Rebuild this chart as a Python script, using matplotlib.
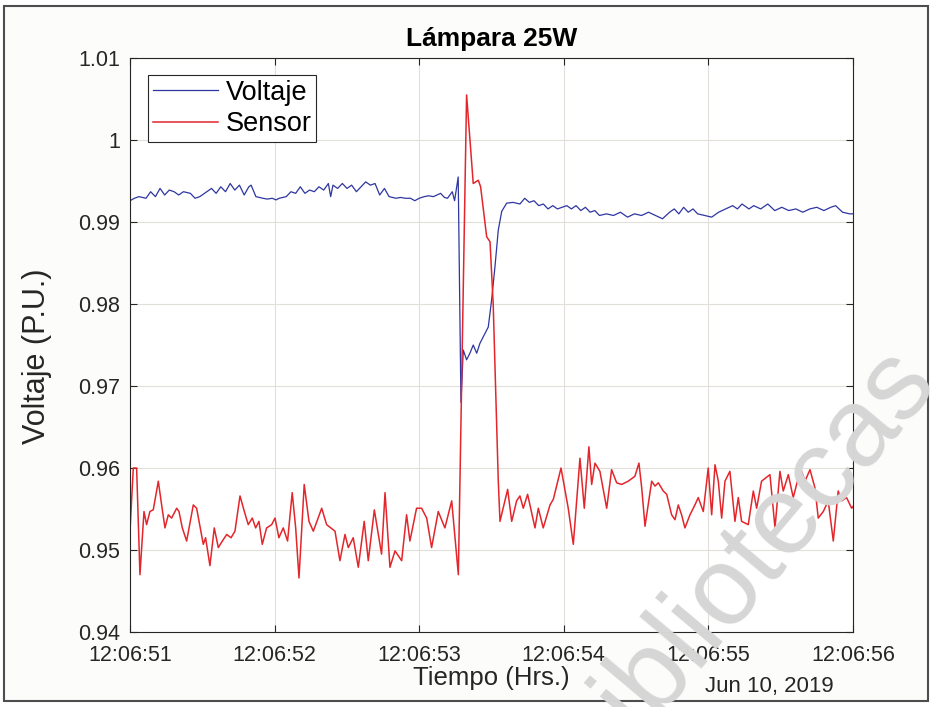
import numpy as np
import matplotlib
matplotlib.use('Agg')
import matplotlib.pyplot as plt
import matplotlib.dates as mdates
from matplotlib.patches import Rectangle

plt.rcParams['font.family'] = ['Liberation Sans', 'DejaVu Sans']

# datos (segundos desde 12:06:51, valor en p.u.)
inicio = np.datetime64('2019-06-10T12:06:51.000')

volt_t = [0.000, 0.031, 0.062, 0.111, 0.143, 0.176, 0.208, 0.240, 0.272, 0.305,
          0.337, 0.370, 0.418, 0.450, 0.483, 0.531, 0.564, 0.596, 0.628, 0.661,
          0.693, 0.725, 0.757, 0.790, 0.822, 0.838, 0.871, 0.895, 0.919, 0.950,
          0.984, 1.010, 1.032, 1.081, 1.113, 1.146, 1.178, 1.210, 1.242, 1.275,
          1.307, 1.340, 1.372, 1.388, 1.404, 1.436, 1.469, 1.501, 1.533, 1.566,
          1.598, 1.630, 1.663, 1.695, 1.727, 1.760, 1.792, 1.815, 1.840, 1.870,
          1.905, 1.940, 1.970, 2.000, 2.035, 2.065, 2.099, 2.148, 2.175, 2.196,
          2.229, 2.245, 2.270, 2.289, 2.305, 2.328, 2.351, 2.374, 2.398, 2.420,
          2.443, 2.478, 2.501, 2.524, 2.547, 2.571, 2.605, 2.649, 2.697, 2.730,
          2.762, 2.794, 2.827, 2.859, 2.891, 2.924, 2.956, 2.988, 3.021, 3.053,
          3.085, 3.118, 3.150, 3.182, 3.215, 3.247, 3.295, 3.344, 3.392, 3.441,
          3.489, 3.538, 3.586, 3.635, 3.683, 3.732, 3.764, 3.796, 3.829, 3.861,
          3.894, 3.926, 3.974, 4.023, 4.071, 4.120, 4.168, 4.201, 4.233, 4.281,
          4.314, 4.362, 4.411, 4.459, 4.508, 4.556, 4.605, 4.653, 4.702, 4.750,
          4.799, 4.847, 4.880, 4.928, 4.977, 5.000]
volt_v = [0.9926, 0.9929, 0.9931, 0.9929, 0.9937, 0.9931, 0.9941, 0.9933, 0.9939, 0.9937,
          0.9933, 0.9937, 0.9935, 0.9929, 0.9931, 0.9937, 0.9941, 0.9935, 0.9943, 0.9937,
          0.9947, 0.9939, 0.9945, 0.9933, 0.9943, 0.9945, 0.9931, 0.9930, 0.9929, 0.9928,
          0.9929, 0.9927, 0.9929, 0.9931, 0.9937, 0.9935, 0.9943, 0.9935, 0.9939, 0.9937,
          0.9943, 0.9939, 0.9947, 0.9931, 0.9945, 0.9941, 0.9947, 0.9941, 0.9945, 0.9937,
          0.9943, 0.9949, 0.9945, 0.9947, 0.9933, 0.9941, 0.9931, 0.9930, 0.9929, 0.9930,
          0.9929, 0.9929, 0.9926, 0.9929, 0.9931, 0.9932, 0.9931, 0.9935, 0.9930, 0.9929,
          0.9937, 0.9926, 0.9955, 0.9680, 0.9744, 0.9732, 0.9740, 0.9750, 0.9740, 0.9752,
          0.9760, 0.9772, 0.9805, 0.9845, 0.9890, 0.9913, 0.9923, 0.9924, 0.9922, 0.9929,
          0.9924, 0.9926, 0.9920, 0.9922, 0.9916, 0.9920, 0.9916, 0.9918, 0.9920, 0.9916,
          0.9920, 0.9914, 0.9918, 0.9912, 0.9914, 0.9908, 0.9910, 0.9908, 0.9912, 0.9906,
          0.9910, 0.9908, 0.9912, 0.9908, 0.9904, 0.9912, 0.9916, 0.9910, 0.9918, 0.9912,
          0.9916, 0.9910, 0.9908, 0.9906, 0.9912, 0.9916, 0.9920, 0.9916, 0.9922, 0.9916,
          0.9920, 0.9916, 0.9922, 0.9914, 0.9918, 0.9914, 0.9916, 0.9912, 0.9916, 0.9918,
          0.9914, 0.9918, 0.9920, 0.9912, 0.9910, 0.9910]

sens_t = [0.000, 0.023, 0.046, 0.069, 0.097, 0.115, 0.138, 0.161, 0.196, 0.219,
          0.242, 0.265, 0.288, 0.323, 0.339, 0.362, 0.392, 0.438, 0.461, 0.507,
          0.523, 0.553, 0.583, 0.611, 0.639, 0.669, 0.699, 0.726, 0.761, 0.791,
          0.818, 0.846, 0.869, 0.892, 0.915, 0.945, 0.980, 1.003, 1.030, 1.060,
          1.090, 1.122, 1.146, 1.169, 1.205, 1.238, 1.268, 1.326, 1.360, 1.418,
          1.452, 1.487, 1.510, 1.544, 1.579, 1.620, 1.648, 1.690, 1.740, 1.764,
          1.798, 1.833, 1.879, 1.913, 1.936, 1.982, 2.017, 2.052, 2.086, 2.132,
          2.178, 2.225, 2.271, 2.328, 2.374, 2.409, 2.425, 2.467, 2.490, 2.512,
          2.547, 2.559, 2.612, 2.640, 2.674, 2.697, 2.720, 2.750, 2.801, 2.824,
          2.858, 2.905, 2.928, 2.981, 3.031, 3.066, 3.112, 3.142, 3.174, 3.193,
          3.216, 3.250, 3.297, 3.331, 3.366, 3.400, 3.446, 3.492, 3.520, 3.539,
          3.562, 3.608, 3.631, 3.654, 3.688, 3.712, 3.746, 3.769, 3.792, 3.815,
          3.838, 3.873, 3.907, 3.930, 3.965, 3.999, 4.023, 4.046, 4.069, 4.092,
          4.115, 4.149, 4.184, 4.207, 4.230, 4.276, 4.311, 4.334, 4.368, 4.426,
          4.461, 4.495, 4.518, 4.553, 4.587, 4.622, 4.645, 4.668, 4.703, 4.737,
          4.760, 4.795, 4.829, 4.864, 4.898, 4.922, 4.956, 4.991, 5.000]
sens_v = [0.9523, 0.9600, 0.9600, 0.9470, 0.9547, 0.9531, 0.9547, 0.9549, 0.9584, 0.9555,
          0.9527, 0.9543, 0.9539, 0.9551, 0.9547, 0.9527, 0.9511, 0.9555, 0.9551, 0.9507,
          0.9515, 0.9481, 0.9527, 0.9503, 0.9511, 0.9519, 0.9515, 0.9523, 0.9566, 0.9547,
          0.9531, 0.9539, 0.9527, 0.9535, 0.9507, 0.9527, 0.9531, 0.9539, 0.9515, 0.9527,
          0.9511, 0.9570, 0.9527, 0.9466, 0.9580, 0.9535, 0.9523, 0.9551, 0.9531, 0.9523,
          0.9487, 0.9519, 0.9503, 0.9515, 0.9479, 0.9535, 0.9487, 0.9549, 0.9495, 0.9570,
          0.9479, 0.9499, 0.9487, 0.9543, 0.9511, 0.9551, 0.9551, 0.9539, 0.9503, 0.9547,
          0.9527, 0.9560, 0.9470, 1.0055, 0.9947, 0.9951, 0.9943, 0.9882, 0.9876, 0.9800,
          0.9585, 0.9535, 0.9574, 0.9535, 0.9560, 0.9566, 0.9551, 0.9568, 0.9527, 0.9551,
          0.9527, 0.9555, 0.9562, 0.9600, 0.9551, 0.9507, 0.9612, 0.9551, 0.9626, 0.9580,
          0.9606, 0.9596, 0.9551, 0.9598, 0.9582, 0.9580, 0.9584, 0.9590, 0.9606, 0.9576,
          0.9529, 0.9584, 0.9578, 0.9582, 0.9572, 0.9568, 0.9543, 0.9537, 0.9555, 0.9543,
          0.9527, 0.9543, 0.9555, 0.9564, 0.9547, 0.9600, 0.9543, 0.9604, 0.9584, 0.9539,
          0.9584, 0.9596, 0.9535, 0.9564, 0.9535, 0.9531, 0.9572, 0.9551, 0.9584, 0.9592,
          0.9527, 0.9596, 0.9572, 0.9592, 0.9564, 0.9588, 0.9596, 0.9584, 0.9598, 0.9576,
          0.9539, 0.9547, 0.9560, 0.9511, 0.9572, 0.9560, 0.9564, 0.9551, 0.9553]

y_ticks = [0.94, 0.95, 0.96, 0.97, 0.98, 0.99, 1.00, 1.01]
y_labels = ['0.94', '0.95', '0.96', '0.97', '0.98', '0.99', '1', '1.01']


def a_fecha(seg):
    ms = np.round(np.array(seg) * 1000).astype(np.int64)
    return inicio + ms.astype('timedelta64[ms]')


fig = plt.figure(figsize=(9.33, 7.07), dpi=100)
fig.patch.set_facecolor('white')
fig.patches.append(Rectangle((0.004, 0.009), 0.991, 0.982, transform=fig.transFigure,
                             facecolor='#fcfcfa', edgecolor='#4d4d4d', lw=1.5, zorder=-10))

ax = fig.add_axes([0.1393, 0.106, 0.7749, 0.8119])
ax.set_facecolor('white')

ax.plot(a_fecha(volt_t), volt_v, color='#2e36a0', lw=0.9, label='Voltaje')
ax.plot(a_fecha(sens_t), sens_v, color='#e3262b', lw=1.1, label='Sensor')

ax.set_xlim(inicio, inicio + np.timedelta64(5, 's'))
ax.set_ylim(0.94, 1.01)
ax.set_yticks(y_ticks)
ax.set_yticklabels(y_labels)
ax.xaxis.set_major_locator(mdates.SecondLocator())
ax.xaxis.set_major_formatter(mdates.DateFormatter('%H:%M:%S'))

ax.grid(True, color='#e2dfda', lw=0.8)
ax.set_axisbelow(True)
for s in ax.spines.values():
    s.set_color('#262626')
    s.set_linewidth(0.8)
ax.tick_params(direction='in', length=5, width=0.8, top=True, right=True,
               colors='#262626', labelsize=15.5)
ax.tick_params(axis='x', pad=9)
ax.tick_params(axis='y', pad=7)

ax.set_title('Lámpara 25W', fontsize=19, fontweight='bold', pad=9)
ax.set_xlabel('Tiempo (Hrs.)', fontsize=18.5, color='#262626', va='center')
ax.xaxis.set_label_coords(0.5, -0.08)
ax.set_ylabel('Voltaje (P.U.)', fontsize=22, color='#262626')
ax.yaxis.set_label_coords(-0.108, 0.48)
ax.text(0.884, -0.094, 'Jun 10, 2019', transform=ax.transAxes, ha='center', va='center',
        fontsize=16, color='#262626')

leg = ax.legend(loc='upper left', bbox_to_anchor=(0.025, 0.970), borderaxespad=0,
                fontsize=19.5, fancybox=False, edgecolor='#262626', framealpha=1,
                handlelength=2.4, handletextpad=0.3, labelspacing=0.2, borderpad=0.17)
leg.get_frame().set_linewidth(0.8)

# marca de agua
fig.text(0.80, 0.205, 'bibliotecas', rotation=50, fontsize=80, color='#d6d6d6',
         ha='center', va='center', rotation_mode='anchor', zorder=20)

fig.savefig('out.png', dpi=100)
